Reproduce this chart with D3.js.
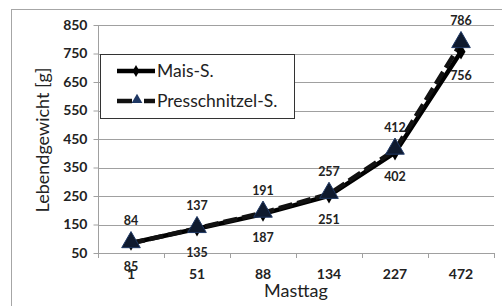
<!DOCTYPE html>
<html><head><meta charset="utf-8">
<script src="https://cdn.jsdelivr.net/npm/d3@7"></script>
<style>body{margin:0;background:#fff}svg{display:block}</style>
</head><body>
<svg id="c" width="502" height="306"></svg>
<script>
const categories = ["1","51","88","134","227","472"];
const maisValues = [85,135,187,251,402,756];
const presValues = [84,137,191,257,412,786];
const yTicks = [50,150,250,350,450,550,650,750,850];
const seriesNames = ["Mais-S.","Presschnitzel-S."];

const svg = d3.select("#c");
const FONT = "Lato, 'Open Sans', sans-serif";
const L=98, R=494, T=25, B=253;

svg.append("rect").attr("x",11.5).attr("y",9.5).attr("width",520).attr("height",320)
  .attr("fill","none").attr("stroke","#a6a6a6").attr("stroke-width",1);

const x = d3.scaleBand().domain(categories).range([L,R]);
const y = d3.scaleLinear().domain([50,850]).range([B,T]);

svg.append("g").selectAll("line").data(yTicks.slice(1)).join("line")
  .attr("x1",L).attr("x2",R).attr("y1",d=>Math.round(y(d))+0.5).attr("y2",d=>Math.round(y(d))+0.5)
  .attr("stroke","#a0a0a0").attr("stroke-width",1);

const ya = svg.append("g").attr("transform",`translate(${L+0.5},0)`)
  .call(d3.axisLeft(y).tickValues(yTicks).tickSize(5).tickPadding(6));
ya.select(".domain").attr("stroke","#a0a0a0").attr("d",`M0,${T}V${B}`);
ya.selectAll(".tick line").attr("stroke","#a0a0a0");
ya.selectAll(".tick text").attr("font-family",FONT).attr("font-size",14).attr("font-weight","bold").attr("fill","#222");

const xa = svg.append("g").attr("transform",`translate(0,${B+0.5})`)
  .call(d3.axisBottom(x).tickSize(0).tickPadding(16));
xa.select(".domain").attr("stroke","#a0a0a0").attr("d",`M${L},0H${R}`);
xa.selectAll(".tick text").attr("font-family",FONT).attr("font-size",14).attr("font-weight","bold").attr("fill","#222");
const bounds = d3.range(categories.length+1).map(i=>L+i*x.bandwidth());
svg.append("g").selectAll("line").data(bounds).join("line")
  .attr("x1",d=>Math.round(d)+0.5).attr("x2",d=>Math.round(d)+0.5).attr("y1",B).attr("y2",B+5)
  .attr("stroke","#a0a0a0");

svg.append("text").attr("x",(L+R)/2).attr("y",297).attr("text-anchor","middle")
  .attr("font-family",FONT).attr("font-size",18).attr("fill","#222").text("Masttag");
svg.append("text").attr("transform",`translate(49,${140}) rotate(-90)`).attr("text-anchor","middle")
  .attr("font-family",FONT).attr("font-size",18).attr("fill","#222").text("Lebendgewicht  [g]");

const cx = d=>x(d)+x.bandwidth()/2;
const line = d3.line().x((d,i)=>cx(categories[i])).y(d=>y(d));

svg.append("path").datum(maisValues).attr("d",line).attr("fill","none")
  .attr("stroke","#000").attr("stroke-width",4.5).attr("stroke-linejoin","round");
svg.append("path").datum(presValues).attr("d",line).attr("fill","none")
  .attr("stroke","#111").attr("stroke-width",4.5).attr("stroke-dasharray","14,5");

const diamond = d3.symbol().type(d3.symbolDiamond).size(70);
const tri = d3.symbol().type(d3.symbolTriangle).size(150);

svg.append("g").selectAll("path").data(maisValues).join("path")
  .attr("d",diamond).attr("transform",(d,i)=>`translate(${cx(categories[i])},${y(d)})`).attr("fill","#000");
svg.append("g").selectAll("path").data(presValues).join("path")
  .attr("d",tri).attr("transform",(d,i)=>`translate(${cx(categories[i])},${y(d)-1})`)
  .attr("fill","#0f1a2e").attr("stroke","#1f3864").attr("stroke-width",1);

svg.append("g").selectAll("text").data(presValues).join("text")
  .attr("x",(d,i)=>cx(categories[i])).attr("y",d=>y(d)-18).attr("text-anchor","middle")
  .attr("font-family",FONT).attr("font-size",12.5).attr("font-weight","bold").attr("fill","#222").text(d=>d);
svg.append("g").selectAll("text").data(maisValues).join("text")
  .attr("x",(d,i)=>cx(categories[i])).attr("y",d=>y(d)+28).attr("text-anchor","middle")
  .attr("font-family",FONT).attr("font-size",12.5).attr("font-weight","bold").attr("fill","#222").text(d=>d);

const lg = svg.append("g");
lg.append("rect").attr("x",100.5).attr("y",54.5).attr("width",194).attr("height",64)
  .attr("fill","#fff").attr("stroke","#333").attr("stroke-width",1);
lg.append("line").attr("x1",117).attr("x2",155).attr("y1",71).attr("y2",71).attr("stroke","#000").attr("stroke-width",4.5);
lg.append("path").attr("d",d3.symbol().type(d3.symbolDiamond).size(40)).attr("transform","translate(136,71)").attr("fill","#000");
lg.append("line").attr("x1",117).attr("x2",132).attr("y1",101).attr("y2",101).attr("stroke","#111").attr("stroke-width",4.5);
lg.append("line").attr("x1",144).attr("x2",155).attr("y1",101).attr("y2",101).attr("stroke","#111").attr("stroke-width",4.5);
lg.append("path").attr("d",d3.symbol().type(d3.symbolTriangle).size(50)).attr("transform","translate(137,100)").attr("fill","#1f3864");
lg.selectAll("text.l").data(seriesNames).join("text").attr("class","l")
  .attr("x",157).attr("y",(d,i)=>71+i*30).attr("dy","0.35em")
  .attr("font-family",FONT).attr("font-size",17.5).attr("fill","#222").text(d=>d);
</script>
</body></html>
